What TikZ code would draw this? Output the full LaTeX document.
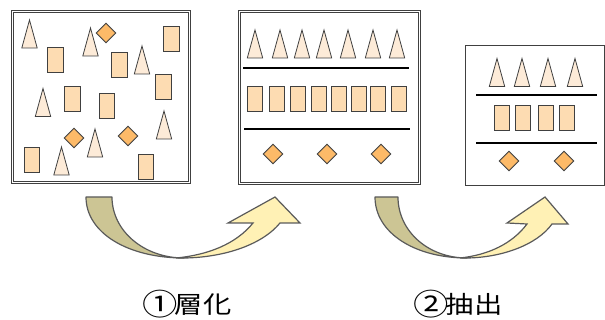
\documentclass[tikz,border=0pt]{standalone}
\usepackage{fontspec}
\newfontfamily\cjk{Noto Sans CJK JP}
\definecolor{trifill}{HTML}{FDEBD8}
\definecolor{rctfill}{HTML}{FDDCB2}
\definecolor{diafill}{HTML}{FDBA68}
\definecolor{shapeline}{HTML}{404040}
\definecolor{arrdark}{HTML}{CCC594}
\definecolor{arrlight}{HTML}{FFF1B5}
\definecolor{arrline}{HTML}{5A5A5A}
\tikzset{
  shp/.style={draw=shapeline,line width=0.8pt,line join=miter},
  tri/.pic={\draw[shp,fill=trifill] (-7.7,14) -- (0,-14) -- (7.7,14) -- cycle;},
  rct/.pic={\draw[shp,fill=rctfill] (-7.8,-12.5) rectangle (7.8,12.5);},
  dia/.pic={\draw[shp,fill=diafill] (0,-9.7) -- (9.7,0) -- (0,9.7) -- (-9.7,0) -- cycle;},
  boxline/.style={draw=shapeline,line width=0.9pt},
  sep/.style={draw=black,line width=1.1pt},
  arrd/.style={draw=arrline,line width=1.2pt,fill=arrdark,line join=round},
  arrl/.style={draw=arrline,line width=1.2pt,fill=arrlight,line join=miter},
  lbl/.style={font=\cjk\fontsize{24}{28}\selectfont,xscale=1.18,inner sep=0pt}
}
\newcommand\cnum[1]{\raisebox{-0.08em}{\scalebox{1.25}{#1}}\hspace{-0.12em}}
\begin{document}
\begin{tikzpicture}[x=1pt,y=-1pt]
\useasboundingbox (0,0) rectangle (605,320);
% box 1
\draw[boxline] (11.2,10.2) rectangle (190.8,183.8);
\draw[boxline] (13.6,12.6) rectangle (188.4,181.4);
\foreach \x/\y in {29.5/34, 90.5/42, 142/60, 43/102.5, 164/125, 95/143, 61.5/161}
  \pic at (\x,\y) {tri};
\foreach \x/\y in {55.5/59.5, 171.5/38.5, 119.5/64.5, 163.5/86.5, 72.5/98.5, 107/105.5, 32/159.5, 146/166.5}
  \pic at (\x,\y) {rct};
\foreach \x/\y in {106/33, 74/138, 128/136}
  \pic at (\x,\y) {dia};
% box 2
\draw[boxline] (238.2,10.2) rectangle (420.8,184.8);
\draw[boxline] (240.6,12.6) rectangle (418.4,182.4);
\foreach \x in {255,280,302,324,348,373,397}
  \pic at (\x,44) {tri};
\draw[sep] (243,68) -- (409,68);
\foreach \x in {255,277,298,319,339,359,378,399}
  \pic at (\x,98.5) {rct};
\draw[sep] (244,129) -- (410,129);
\foreach \x in {273,327,381}
  \pic at (\x,154) {dia};
% box 3
\draw[boxline] (465,45) rectangle (604,185);
\foreach \x in {497,522,548,575}
  \pic at (\x,72.5) {tri};
\draw[sep] (476,95) -- (597,95);
\foreach \x in {502,523,546,567}
  \pic at (\x,118) {rct};
\draw[sep] (476,143) -- (597,143);
\foreach \x in {509,564}
  \pic at (\x,161) {dia};
% arrow 1
\draw[arrd] (86,197) -- (112,197) .. controls (112,231) and (144,258) .. (184,258)
  .. controls (128,258) and (86,233) .. cycle;
\draw[arrl] (176,258) .. controls (222,259) and (262,245) .. (280,223)
  -- (300,223) -- (275,197) -- (228,223) -- (253,223)
  .. controls (236,244) and (208,255) .. cycle;
% arrow 2
\draw[arrd] (375,197) -- (398,197) .. controls (398,231) and (428,258) .. (467,258)
  .. controls (415,258) and (375,233) .. cycle;
\draw[arrl] (460,258) .. controls (500,259) and (537,245) .. (552,224)
  -- (568,224) -- (545,197) -- (507,223) -- (527,224)
  .. controls (512,244) and (488,255) .. cycle;
% labels
\node[lbl] (l1) at (187,304) {\cnum{①}層化};
\node[lbl] (l2) at (458,304) {\cnum{②}抽出};
\end{tikzpicture}
\end{document}
